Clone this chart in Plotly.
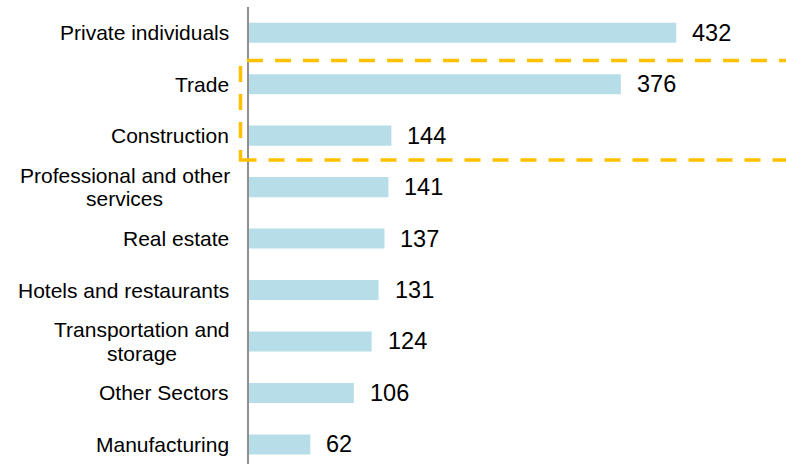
import plotly.graph_objects as go

categories = [
    "Private individuals",
    "Trade",
    "Construction",
    "Professional and other<br>services",
    "Real estate",
    "Hotels and restaurants",
    "Transportation and<br>storage",
    "Other Sectors",
    "Manufacturing",
]
values = [432, 376, 144, 141, 137, 131, 124, 106, 62]

BAR_COLOR = "#B7DEE8"
FONT = "Liberation Sans, Arial, sans-serif"
LABEL_SIZE = 21

W, H = 786, 464
M_L, M_T = 249, 7
plot_h = H - M_T
px_per_cat = 51.46
bottom = -0.5 + plot_h / px_per_cat
plot_w = W - M_L
xmax = plot_w / 0.989

# approximate Arial / Liberation Sans advance widths (1/1000 em) for centring lines
_W = {" ": 278, "a": 556, "b": 556, "c": 500, "d": 556, "e": 556, "f": 278, "g": 556,
      "h": 556, "i": 222, "j": 222, "k": 500, "l": 222, "m": 833, "n": 556, "o": 556,
      "p": 556, "q": 556, "r": 333, "s": 500, "t": 278, "u": 556, "v": 500, "w": 722,
      "x": 500, "y": 500, "z": 500, "P": 667, "T": 611, "C": 722, "R": 722, "H": 722,
      "O": 778, "S": 667, "M": 833}

def text_width(s, size):
    return sum(_W.get(ch, 600) for ch in s) * size / 1000.0

fig = go.Figure()
fig.add_trace(go.Bar(
    x=values,
    y=list(range(len(categories))),
    orientation="h",
    width=0.39,
    marker=dict(color=BAR_COLOR, line=dict(width=0)),
    hoverinfo="skip",
))

annotations = []
# value labels
for i, v in enumerate(values):
    annotations.append(dict(
        x=v, y=i, xref="x", yref="y", text=str(v), showarrow=False,
        xanchor="left", yanchor="middle", xshift=14,
        font=dict(family=FONT, size=23.5, color="#000000"),
    ))
# category labels (multi-line block right-aligned, lines centred within block)
line_gap = 23.4
label_right = -19  # px offset from plot left edge
for i, c in enumerate(categories):
    lines = c.split("<br>")
    n = len(lines)
    block_w = max(text_width(ln, LABEL_SIZE) for ln in lines)
    for k, ln in enumerate(lines):
        shift = ((n - 1) / 2 - k) * line_gap
        annotations.append(dict(
            x=0, y=i, xref="paper", yref="y", text=ln, showarrow=False,
            xanchor="center" if n > 1 else "right", yanchor="middle",
            xshift=(label_right - block_w / 2) if n > 1 else label_right + 1,
            yshift=shift,
            font=dict(family=FONT, size=LABEL_SIZE, color="#000000"),
        ))

def px_to_paper_x(px):
    return (px - M_L) / plot_w

def px_to_paper_y(py):
    return (H - py) / plot_h

shapes = [dict(
    type="rect", xref="paper", yref="paper",
    x0=px_to_paper_x(240.5), x1=px_to_paper_x(790),
    y0=px_to_paper_y(160), y1=px_to_paper_y(60.5),
    line=dict(color="#FFC000", width=3.5, dash="16px,12px"),
    fillcolor="rgba(0,0,0,0)", layer="above",
)]

fig.update_layout(
    width=W, height=H,
    margin=dict(l=M_L, r=0, t=M_T, b=0, pad=0),
    paper_bgcolor="white", plot_bgcolor="white",
    showlegend=False,
    bargap=0.6,
    xaxis=dict(range=[0, xmax], visible=False, showgrid=False, zeroline=False, fixedrange=True),
    yaxis=dict(range=[bottom, -0.5], showgrid=False, zeroline=False,
               showticklabels=False, ticks="",
               showline=True, linecolor="#8F8F8F", linewidth=2, fixedrange=True),
    annotations=annotations,
    shapes=shapes,
)

fig.write_html(
    "out.html",
    config={"displayModeBar": False},
    post_script="document.body.style.margin='0';document.body.style.overflow='hidden';",
)
